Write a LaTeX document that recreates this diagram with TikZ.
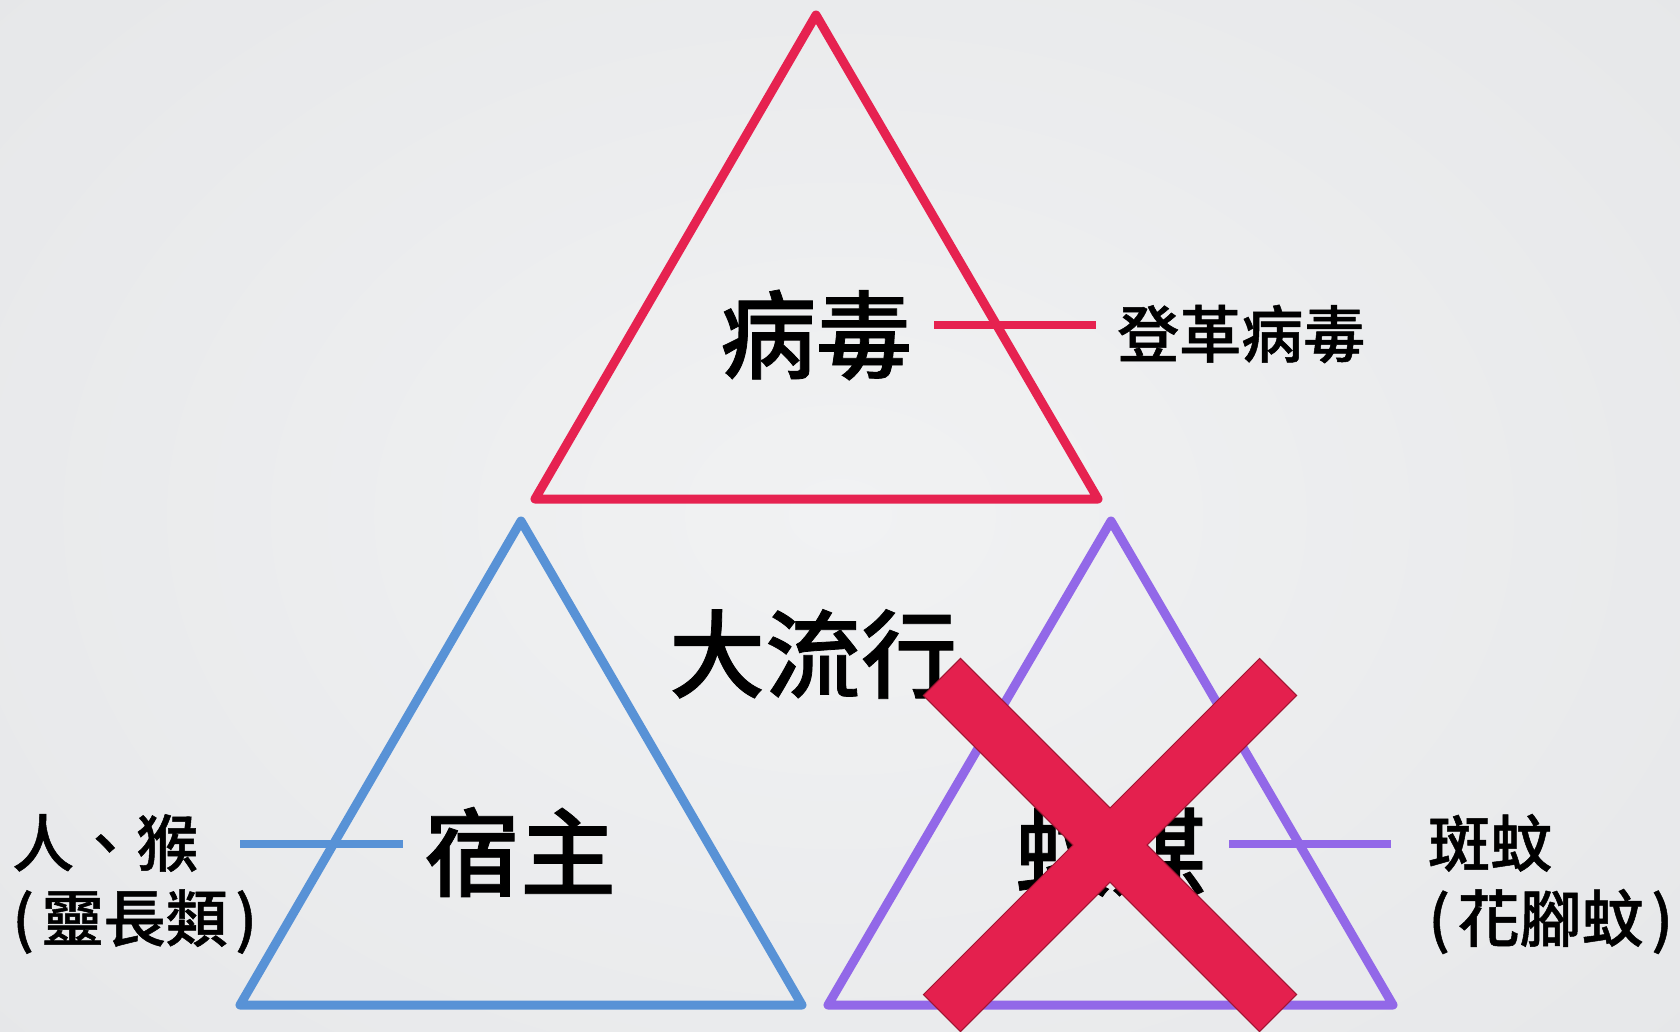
\documentclass[tikz,border=0pt]{standalone}
\usepackage{fontspec}
\newfontfamily\cjk[UprightFont={* Medium},FakeBold=0.8]{Noto Sans CJK TC}
\definecolor{tred}{RGB}{230,34,80}
\definecolor{xred}{RGB}{228,32,78}
\definecolor{xborder}{RGB}{160,20,50}
\definecolor{tblue}{RGB}{88,146,214}
\definecolor{tpurple}{RGB}{146,104,232}
\definecolor{bgin}{RGB}{241,242,243}
\definecolor{bgout}{RGB}{230,231,233}
\begin{document}
\begin{tikzpicture}[x=1pt,y=-1pt,
  tri/.style={line width=9pt,line join=round},
  conn/.style={line width=7.5pt},
  big/.style={font=\cjk\fontsize{96}{110}\selectfont,inner sep=0pt},
  side/.style={font=\cjk\fontsize{62}{75}\selectfont,inner sep=0pt},
  xbar/.style={rectangle,minimum width=474pt,minimum height=51pt,inner sep=0pt}]
\useasboundingbox (0,0) rectangle (1680,1031);
\shade[inner color=bgin,outer color=bgout] (-300,-300) rectangle (1980,1331);
% triangles
\coordinate (ra) at (816,15);
\coordinate (rl) at (535,499);
\coordinate (rr) at (1098,499);
\coordinate (ba) at (521,521);
\coordinate (bl) at (240,1005);
\coordinate (br) at (802,1005);
\coordinate (pa) at (1111,521);
\coordinate (pl) at (828,1005);
\coordinate (pr) at (1393,1005);
\draw[tri,tred] (ra) -- (rl) -- (rr) -- cycle;
\draw[tri,tblue] (ba) -- (bl) -- (br) -- cycle;
\draw[tri,tpurple] (pa) -- (pl) -- (pr) -- cycle;
% texts
\node[big] (virus) at (816,335) {病毒};
\node[side,anchor=west] (dengue) at (1117,334) {登革病毒};
\node[big] (pandemic) at (813,654) {大流行};
\node[big] (host) at (520,852) {宿主};
\node[big] (vector) at (1111,852) {蚊媒};
\node[side,anchor=west,align=left] (hosts) at (12,884) {人、猴\\(\hspace{0.12em}靈長類\hspace{0.12em})};
\node[side,anchor=west,align=left] (mosq) at (1428,884) {斑蚊\\(\hspace{0.12em}花腳蚊\hspace{0.12em})};
% connectors
\coordinate (r1) at (934,325); \coordinate (r2) at (1096,325);
\coordinate (b1) at (240,844); \coordinate (b2) at (403,844);
\coordinate (p1) at (1229,844); \coordinate (p2) at (1391,844);
\draw[conn,tred] (r1) -- (r2);
\draw[conn,tblue] (b1) -- (b2);
\draw[conn,tpurple] (p1) -- (p2);
% cross
\node[xbar,rotate=45,draw=xborder,line width=2.4pt] (xa) at (1110,845) {};
\node[xbar,rotate=-45,draw=xborder,line width=2.4pt] (xb) at (1110,845) {};
\node[xbar,rotate=45,fill=xred] (xa2) at (1110,845) {};
\node[xbar,rotate=-45,fill=xred] (xb2) at (1110,845) {};
\end{tikzpicture}
\end{document}
